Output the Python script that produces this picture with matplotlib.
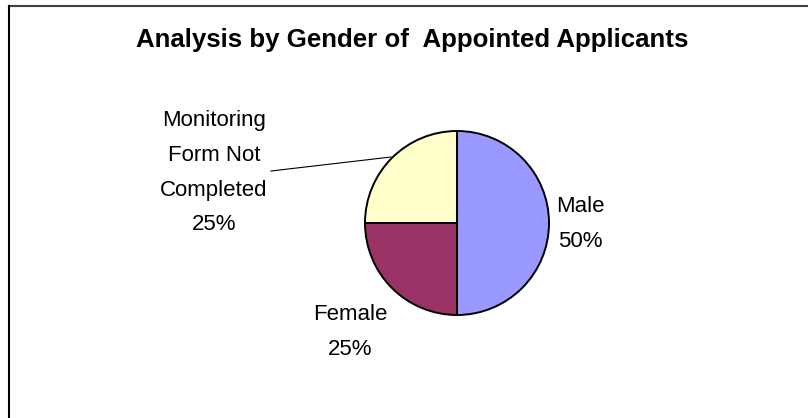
import matplotlib.pyplot as plt
from matplotlib.lines import Line2D

title = "Analysis by Gender of  Appointed Applicants"
labels = ["Male", "Female", "Monitoring\nForm Not\nCompleted"]
shares = [50, 25, 25]
colors = ["#9999FF", "#993366", "#FFFFCC"]

plt.rcParams["font.family"] = ["Liberation Sans", "DejaVu Sans"]

W, H = 808, 418
fig = plt.figure(figsize=(W / 100, H / 100), dpi=100)
ax = fig.add_axes([0, 0, 1, 1])

# pie (drawn on a flipped y axis, so go counterclockwise to look clockwise)
ax.pie(shares, colors=colors, center=(457, 223), radius=92,
       startangle=-90, counterclock=True, frame=True,
       wedgeprops=dict(edgecolor="black", linewidth=1.4))
ax.set_xlim(0, W)
ax.set_ylim(H, 0)
ax.set_aspect("equal")
ax.axis("off")

# data labels
label_pos = [(580, 196), (350, 304), (214, 110)]
for lab, val, (x, y) in zip(labels, shares, label_pos):
    ax.text(x, y, f"{lab}\n{val}%", ha="center", va="top", fontsize=16,
            linespacing=1.86)

# leader line for the small label
ax.add_line(Line2D([271, 391], [171, 157], color="black", linewidth=0.8))

fig.text(412 / W, 1 - 40 / H, title, ha="center", va="center",
         fontsize=18.6, fontweight="bold")

# chart frame (only top and left edges visible)
fig.add_artist(Line2D([9 / W, 1], [1 - 6 / H, 1 - 6 / H], color="#404040", linewidth=1.5))
fig.add_artist(Line2D([9 / W, 9 / W], [0, 1 - 6 / H], color="black", linewidth=1.5))

fig.savefig("out.png", dpi=100)
